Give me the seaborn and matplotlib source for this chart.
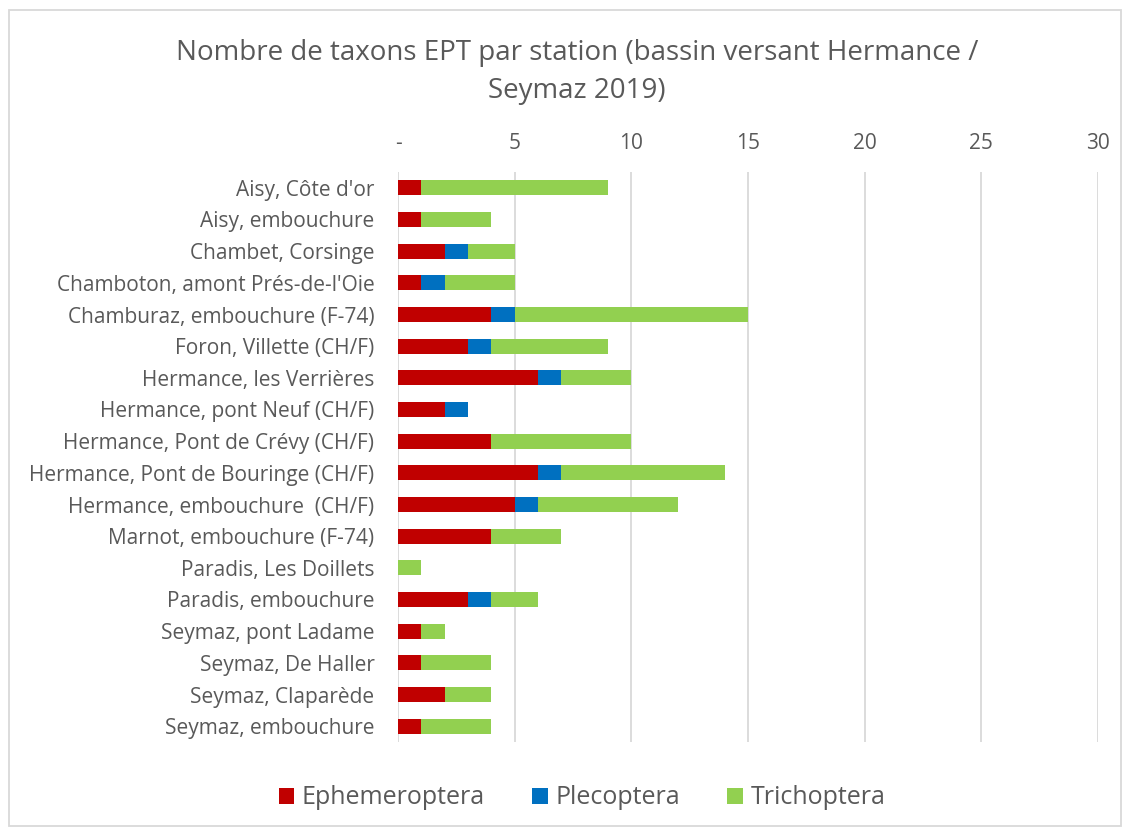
import matplotlib
matplotlib.use("Agg")
import matplotlib.pyplot as plt
import seaborn as sns
import pandas as pd
import numpy as np
from matplotlib.patches import Rectangle, Patch

stations = [
    "Aisy, Côte d'or",
    "Aisy, embouchure",
    "Chambet, Corsinge",
    "Chamboton, amont Prés-de-l'Oie",
    "Chamburaz, embouchure (F-74)",
    "Foron, Villette (CH/F)",
    "Hermance, les Verrières",
    "Hermance, pont Neuf (CH/F)",
    "Hermance, Pont de Crévy (CH/F)",
    "Hermance, Pont de Bouringe (CH/F)",
    "Hermance, embouchure  (CH/F)",
    "Marnot, embouchure (F-74)",
    "Paradis, Les Doillets",
    "Paradis, embouchure",
    "Seymaz, pont Ladame",
    "Seymaz, De Haller",
    "Seymaz, Claparède",
    "Seymaz, embouchure",
]
ephemeroptera = [1, 1, 2, 1, 4, 3, 6, 2, 4, 6, 5, 4, 0, 3, 1, 1, 2, 1]
plecoptera    = [0, 0, 1, 1, 1, 1, 1, 1, 0, 1, 1, 0, 0, 1, 0, 0, 0, 0]
trichoptera   = [8, 3, 2, 3, 10, 5, 3, 0, 6, 7, 6, 3, 1, 2, 1, 3, 2, 3]
series_names = ["Ephemeroptera", "Plecoptera", "Trichoptera"]
colors = ["#C00000", "#0070C0", "#92D050"]
xticks = [0, 5, 10, 15, 20, 25, 30]
xticklabels = ["-", "5", "10", "15", "20", "25", "30"]

sns.set_theme(style="white")
plt.rcParams["font.family"] = ["Open Sans", "DejaVu Sans"]

df = pd.DataFrame({
    "station": stations,
    "E": ephemeroptera,
    "P": plecoptera,
    "T": trichoptera,
})
df["EP"] = df["E"] + df["P"]
df["EPT"] = df["EP"] + df["T"]

fig = plt.figure(figsize=(11.29, 8.32), dpi=100)
ax = fig.add_axes([398 / 1129, 1 - 742 / 832, 700 / 1129, 570 / 832])

for col, c in zip(["EPT", "EP", "E"], [colors[2], colors[1], colors[0]]):
    sns.barplot(data=df, x=col, y="station", orient="h", color=c,
                width=0.48, ax=ax, saturation=1, linewidth=0, zorder=3)

ax.set_xlim(0, 30)
ax.set_ylim(17.5, -0.5)
ax.set_xticks(xticks)
ax.set_xticklabels(xticklabels)
ax.xaxis.tick_top()
ax.tick_params(axis="x", length=0, pad=13, labelsize=15, colors="#595959")
ax.tick_params(axis="y", length=0, pad=17, labelsize=15, colors="#595959")
ax.set_xlabel("")
ax.set_ylabel("")
ax.grid(axis="x", color="#D9D9D9", linewidth=1.3, zorder=0)
for s in ax.spines.values():
    s.set_visible(False)

fig.text(577 / 1129, 1 - 72 / 832,
         "Nombre de taxons EPT par station (bassin versant Hermance /\nSeymaz 2019)",
         ha="center", va="center", fontsize=20, color="#595959", linespacing=1.5)

handles = [Patch(facecolor=c, edgecolor="none") for c in colors]
fig.legend(handles, series_names, loc="center", bbox_to_anchor=(582 / 1129, 1 - 798 / 832),
           ncol=3, frameon=False, fontsize=18, handlelength=0.62, handleheight=0.62,
           handletextpad=0.3, columnspacing=1.9, labelcolor="#595959")

fig.patches.append(Rectangle((9 / 1129, 1 - 826 / 832), 1112 / 1129, 816 / 832,
                             transform=fig.transFigure, fill=False,
                             edgecolor="#D9D9D9", linewidth=1.3))

fig.savefig("out.png", dpi=100)
